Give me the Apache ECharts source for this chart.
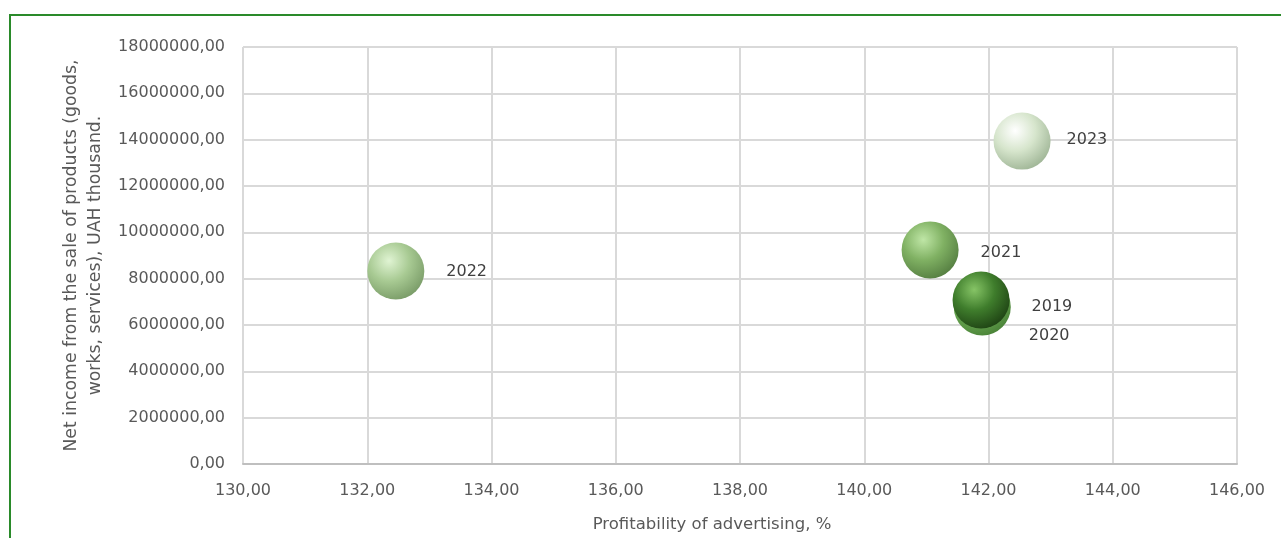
<!DOCTYPE html>
<html>
<head>
<meta charset="utf-8">
<script src="https://cdn.jsdelivr.net/npm/echarts@6/dist/echarts.min.js"></script>
<style>
html,body{margin:0;padding:0;background:#fff;overflow:hidden;}
#frame{position:absolute;left:9px;top:14px;width:1400px;height:700px;border:2px solid #2a8a2a;box-sizing:border-box;}
#main{position:absolute;left:0;top:0;width:1281px;height:538px;}
</style>
</head>
<body>
<div id="frame"></div>
<div id="main"></div>
<script>
const years = ['2019', '2020', '2021', '2022', '2023'];
const profitability = [141.88, 141.90, 141.06, 132.46, 142.54];
const netIncome = [7080000, 6780000, 9240000, 8330000, 13940000];
const xTicks = [130, 132, 134, 136, 138, 140, 142, 144, 146];
const yTicks = [0, 2000000, 4000000, 6000000, 8000000, 10000000, 12000000, 14000000, 16000000, 18000000];

const colors = {
  '2019': ['#86c466', '#3f7d2c', '#1f4414'],
  '2020': ['#b2e09a', '#6eac55', '#4a8338'],
  '2021': ['#bfe6a6', '#80b163', '#567f42'],
  '2022': ['#e0f4d3', '#a8ca93', '#7a9c68'],
  '2023': ['#ffffff', '#d6e5cc', '#a0b697']
};
const labelOffsets = {
  '2019': [0, 7], '2020': [-4, 29], '2021': [0, 3], '2022': [0, 1], '2023': [-6, -1]
};
const zOrder = {'2019': 5, '2020': 4, '2021': 3, '2022': 3, '2023': 3};

function fmt(v, d) {
  return v.toFixed(d).replace('.', ',');
}

const series = years.map((yr, i) => ({
  type: 'scatter',
  name: yr,
  z: zOrder[yr],
  symbolSize: 57,
  data: [[profitability[i], netIncome[i], yr]],
  itemStyle: {
    color: {
      type: 'radial', x: 0.38, y: 0.32, r: 0.72,
      colorStops: [
        {offset: 0, color: colors[yr][0]},
        {offset: 0.5, color: colors[yr][1]},
        {offset: 1, color: colors[yr][2]}
      ]
    },
    opacity: 1
  },
  label: {
    show: true,
    position: 'right',
    distance: 22,
    offset: labelOffsets[yr],
    formatter: p => p.data[2],
    color: '#404040',
    fontSize: 16,
    fontFamily: 'DejaVu Sans'
  }
}));

const chart = echarts.init(document.getElementById('main'));
chart.setOption({
  animation: false,
  textStyle: {fontFamily: 'DejaVu Sans'},
  grid: {left: 243, right: 44, top: 47, bottom: 74, containLabel: false, outerBoundsMode: 'none'},
  xAxis: {
    type: 'value',
    min: xTicks[0], max: xTicks[xTicks.length - 1], interval: 2,
    name: 'Profitability of advertising, %',
    nameLocation: 'middle', nameGap: 52,
    nameTextStyle: {color: '#595959', fontSize: 16.5, padding: [0, 56, 0, 0]},
    axisLine: {show: true, lineStyle: {color: '#bfbfbf', width: 2}},
    axisTick: {show: false},
    splitLine: {show: true, lineStyle: {color: '#d9d9d9', width: 2}},
    axisLabel: {color: '#595959', fontSize: 16, margin: 19, formatter: v => fmt(v, 2)}
  },
  yAxis: {
    type: 'value',
    min: yTicks[0], max: yTicks[yTicks.length - 1], interval: 2000000,
    name: 'Net income from the sale of products (goods,\nworks, services), UAH thousand.',
    nameLocation: 'middle', nameGap: 133,
    nameTextStyle: {color: '#595959', fontSize: 17.3, lineHeight: 24, align: 'center'},
    axisLine: {show: false},
    axisTick: {show: false},
    splitLine: {show: true, lineStyle: {color: '#d9d9d9', width: 2}},
    axisLabel: {color: '#595959', fontSize: 16, margin: 18, formatter: v => fmt(v, 2)}
  },
  series: series
});
</script>
</body>
</html>
